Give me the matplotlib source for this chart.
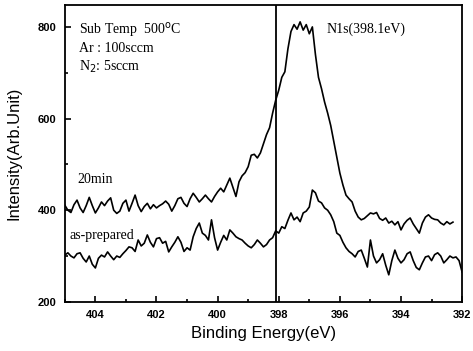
import numpy as np
import matplotlib
matplotlib.use("Agg")
import matplotlib.pyplot as plt
from matplotlib.ticker import MultipleLocator

# Binding energy grids (eV), 0.1 eV sampling
energy_20min = np.round(np.arange(405.0, 392.25, -0.1), 1)
energy_asprep = np.round(np.arange(405.0, 391.95, -0.1), 1)

intensity_20min = [
    411, 400, 395, 412, 422, 405, 395, 410, 428, 410,
    394, 405, 418, 410, 420, 427, 400, 393, 398, 415,
    422, 398, 415, 433, 410, 397, 408, 415, 403, 412,
    405, 410, 414, 420, 413, 398, 410, 425, 428, 415,
    408, 425, 437, 428, 418, 425, 433, 425, 418, 430,
    440, 448, 440, 455, 470, 450, 430, 462, 475, 482,
    495, 520, 522, 514, 525, 545, 565, 580, 612, 640,
    662, 690, 702, 752, 790, 805, 795, 811, 793, 805,
    785, 800, 740, 690, 665, 636, 612, 585, 550, 515,
    481, 455, 433, 425, 418, 398, 385, 379, 382, 388,
    394, 392, 395, 382, 378, 383, 372, 376, 368, 375,
    357, 370, 378, 383, 370, 360, 350, 372, 385, 390,
    383, 380, 379, 372, 368, 375, 370, 374,
]

intensity_asprep = [
    302, 307, 300, 296, 305, 307, 295, 287, 300, 282,
    274, 295, 302, 298, 309, 300, 292, 300, 297, 305,
    312, 320, 318, 310, 335, 322, 328, 346, 330, 320,
    338, 340, 328, 332, 309, 320, 330, 342, 330, 310,
    318, 313, 342, 360, 372, 350, 345, 335, 379, 340,
    313, 330, 345, 335, 357, 350, 342, 338, 335, 328,
    322, 318, 325, 335, 328, 320, 325, 335, 340, 355,
    350, 364, 360, 378, 394, 379, 385, 375, 394, 398,
    407, 444, 438, 420, 416, 405, 400, 390, 375, 350,
    345, 330, 318, 310, 305, 298, 310, 313, 295, 276,
    335, 300, 285, 292, 305, 280, 259, 290, 313, 295,
    285, 292, 305, 309, 290, 275, 270, 285, 298, 300,
    290, 303, 307, 300, 285, 292, 300, 296, 298, 290,
    265,
]

peak_position = 398.1
xticks = [404, 402, 400, 398, 396, 394, 392]
yticks = [200, 400, 600, 800]

fig = plt.figure(figsize=(4.73, 3.51), dpi=100)
ax = fig.add_axes([0.137, 0.140, 0.840, 0.846])

ax.plot(energy_20min, intensity_20min, color="black", lw=1.2)
ax.plot(energy_asprep, intensity_asprep, color="black", lw=1.2)
ax.axvline(peak_position, color="black", lw=1.3)

ax.set_xlim(405.0, 392.0)
ax.set_ylim(200, 848)
ax.set_xticks(xticks)
ax.set_yticks(yticks)
ax.xaxis.set_minor_locator(MultipleLocator(1))
ax.yaxis.set_minor_locator(MultipleLocator(100))
ax.tick_params(which="both", direction="in", top=False, right=False, width=1.2)
ax.tick_params(which="major", length=4, pad=6)
ax.tick_params(which="minor", length=2)
for lab in ax.get_xticklabels() + ax.get_yticklabels():
    lab.set_fontweight("bold")
    lab.set_fontsize(8)
    lab.set_family("Liberation Sans")
for s in ax.spines.values():
    s.set_linewidth(1.3)

ax.set_xlabel("Binding Energy(eV)", fontsize=12, family="Liberation Sans", labelpad=4)
ax.set_ylabel("Intensity(Arb.Unit)", fontsize=12, family="Liberation Sans", labelpad=12)

serif = "Liberation Serif"
ax.text(404.55, 793, "Sub Temp  500$^{\\mathrm{o}}$C", fontsize=10, family=serif, va="center")
ax.text(404.55, 753, "Ar : 100sccm", fontsize=10, family=serif, va="center")
ax.text(404.55, 713, "N$_2$: 5sccm", fontsize=10, family=serif, va="center")
ax.text(396.45, 795, "N1s(398.1eV)", fontsize=10, family=serif, va="center")
ax.text(404.6, 468, "20min", fontsize=10, family=serif, va="center")
ax.text(404.85, 344, "as-prepared", fontsize=10, family=serif, va="center")

fig.savefig("out.png", dpi=100)
